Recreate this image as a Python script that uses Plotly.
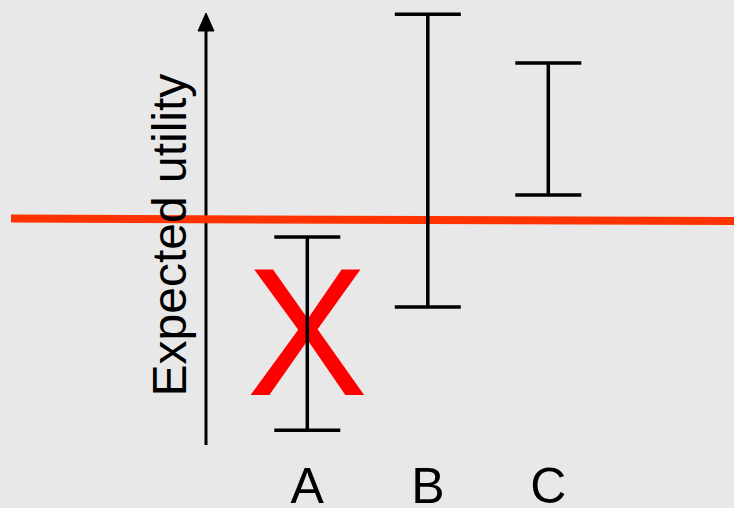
import plotly.graph_objects as go

# Data
categories = ["A", "B", "C"]
utility_low = [-5.28, -2.2, 0.6]
utility_high = [-0.45, 5.12, 3.9]
threshold_start = 0.01
threshold_end = -0.05
rejected = ["A"]
axis_label = "Expected utility"

mid = [(lo + hi) / 2 for lo, hi in zip(utility_low, utility_high)]
err_plus = [hi - m for hi, m in zip(utility_high, mid)]
err_minus = [m - lo for lo, m in zip(utility_low, mid)]

BG = "#e8e8e8"
FONT = "Liberation Sans, Arial, sans-serif"
Y_RANGE = [-5.725, 5.475]
X_GLYPH_SHIFT = 0.385  # visual centring of the big "X" glyph

fig = go.Figure()

# Red X over rejected option (drawn on the lower layer, below the error bars)
rej_mid = [mid[categories.index(c)] for c in rejected]
fig.add_trace(go.Scatter(
    x=rejected, y=rej_mid, mode="text", text=["X"] * len(rejected),
    textposition="middle center", yaxis="y",
    textfont=dict(family=FONT, size=182, color="#ff0000"),
    hoverinfo="skip", showlegend=False, cliponaxis=False,
))

# Error bars (overlay layer, above the X)
fig.add_trace(go.Scatter(
    x=categories, y=mid, mode="markers", yaxis="y2",
    marker=dict(size=1, color="rgba(0,0,0,0)"),
    error_y=dict(type="data", symmetric=False, array=err_plus, arrayminus=err_minus,
                 color="black", thickness=3.5, width=33),
    showlegend=False, cliponaxis=False,
))

# Vertical axis with arrow (drawn below traces)
ax_x = 206 / 734
fig.add_shape(type="line", xref="paper", yref="paper", x0=ax_x, x1=ax_x,
              y0=1 - 445 / 448, y1=1 - 28 / 448,
              line=dict(color="black", width=3), layer="below")
fig.add_shape(type="path", xref="paper", yref="paper",
              path=f"M {206/734},{1-13/448} L {198/734},{1-31/448} L {214/734},{1-31/448} Z",
              fillcolor="black", line=dict(color="black", width=1), layer="below")

# Threshold line
fig.add_shape(type="line", xref="paper", yref="y2", x0=11 / 734, x1=1,
              y0=threshold_start, y1=threshold_end,
              line=dict(color="#ff3300", width=8), layer="below")

# Axis label
fig.add_annotation(text=axis_label, xref="paper", yref="paper",
                   x=168.5 / 734, y=1 - 235 / 448, xanchor="center", yanchor="middle",
                   textangle=-90, showarrow=False,
                   font=dict(family=FONT, size=48, color="black"))

fig.update_layout(
    width=734, height=508,
    margin=dict(l=0, r=0, t=0, b=60, autoexpand=False),
    paper_bgcolor=BG, plot_bgcolor=BG,
    showlegend=False,
    xaxis=dict(type="category", categoryorder="array", categoryarray=categories,
               range=[-2.55, 3.541], showgrid=False, zeroline=False, showline=False,
               ticks="", tickfont=dict(family=FONT, size=50, color="black"),
               ticklabelstandoff=4, automargin=False, fixedrange=True),
    yaxis=dict(range=[Y_RANGE[0] + X_GLYPH_SHIFT, Y_RANGE[1] + X_GLYPH_SHIFT],
               visible=False, showgrid=False, zeroline=False, fixedrange=True,
               automargin=False),
    yaxis2=dict(range=Y_RANGE, overlaying="y", visible=False, showgrid=False,
                zeroline=False, fixedrange=True, automargin=False),
)

fig.write_html(
    "out.html",
    config={"displayModeBar": False, "staticPlot": True},
    post_script="document.body.style.margin='0';document.body.style.padding='0';"
                "document.body.style.overflow='hidden';",
)
